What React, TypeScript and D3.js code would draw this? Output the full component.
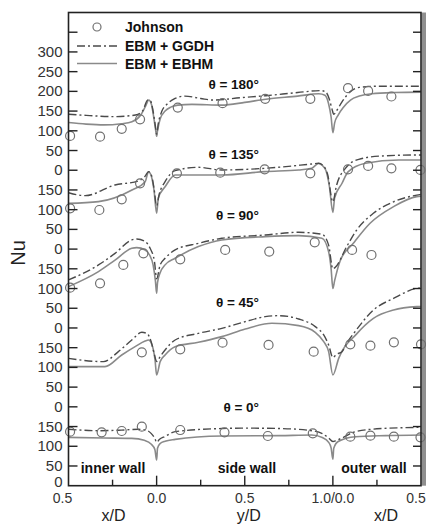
import React from "react";
import * as d3 from "d3";

// Unified wall coordinate s: 0..0.5 inner wall (x/D 0.5 -> 0), 0.5..1.5 side wall (y/D 0 -> 1), 1.5..2 outer wall (x/D 0 -> 0.5)
const angles = ["0", "45", "90", "135", "180"];
const offsets = [0, 200, 400, 600, 800];

const ggdh0: [number, number][] = [[0,143],[0.17,139.5],[0.3,141],[0.397,143],[0.44,141],[0.47,132],[0.49,120],[0.5,110],[0.515,117],[0.548,125],[0.605,137],[0.87,145],[1.0,146],[1.2,145],[1.372,140],[1.44,132],[1.476,121],[1.5,112],[1.52,115],[1.552,121],[1.628,137],[1.78,145],[2,148]];
const ebhm0: [number, number][] = [[0,122.6],[0.2,121],[0.359,120],[0.43,115],[0.47,105],[0.49,92],[0.5,65],[0.505,95],[0.52,107],[0.548,113],[0.605,117.5],[0.87,126],[1.2,127],[1.38,128.5],[1.44,122],[1.476,110],[1.49,96],[1.5,67],[1.505,95],[1.53,112],[1.628,124.3],[1.8,127],[2,128.5]];
const johnson0: [number, number][] = [[0.009,137],[0.188,135.3],[0.302,138.7],[0.416,149.7],[0.634,141.2],[0.885,135.3],[1.131,126],[1.386,132.8],[1.599,124.3],[1.713,126.8],[1.846,124.3],[1.997,122.6]];

const ggdh45: [number, number][] = [[0,123],[0.198,114.6],[0.283,140],[0.359,169.5],[0.416,189],[0.444,186.4],[0.469,165.3],[0.488,131.5],[0.5,115],[0.52,127.3],[0.548,144.2],[0.605,169.5],[0.737,186.4],[0.87,199.1],[1.003,216],[1.116,228.7],[1.192,231.2],[1.306,222.8],[1.4,203.4],[1.448,182.2],[1.476,156.9],[1.5,125],[1.52,133],[1.552,140],[1.578,161],[1.628,192],[1.73,245.6],[1.844,275],[1.976,300.6],[2,302]];
const ebhm45: [number, number][] = [[0,101.9],[0.207,101.9],[0.302,131.5],[0.378,152.6],[0.435,167],[0.454,169.5],[0.477,152.6],[0.491,118.8],[0.5,80.8],[0.52,114.6],[0.548,131.5],[0.605,152.6],[0.737,163.6],[0.87,178],[1.003,197.4],[1.154,211.8],[1.306,205.9],[1.4,189],[1.448,165.3],[1.476,140],[1.5,80.8],[1.533,123],[1.635,185],[1.73,224.5],[1.844,245.6],[1.976,254],[2,254.5]];
const johnson45: [number, number][] = [[0.416,138.3],[0.634,145.9],[0.874,162.8],[1.135,156.9],[1.391,140],[1.599,158.5],[1.713,155.2],[1.846,163.6],[2.0,158.5]];

const ggdh90: [number, number][] = [[0,121.7],[0.17,159.8],[0.264,189.3],[0.359,223.2],[0.387,225.7],[0.435,219],[0.463,202],[0.488,168],[0.5,125],[0.52,160],[0.548,176.7],[0.605,197.8],[0.737,214.7],[0.87,227.4],[1.116,235.8],[1.306,242.6],[1.438,237.5],[1.476,210],[1.5,150],[1.512,153],[1.578,206],[1.635,248.5],[1.73,290.8],[1.844,320],[1.976,337],[2,339]];
const ebhm90: [number, number][] = [[0,104.8],[0.17,142.8],[0.264,172],[0.359,202],[0.387,203.7],[0.435,197.8],[0.46,185],[0.48,160],[0.493,120],[0.5,88],[0.505,115],[0.52,140],[0.548,160],[0.605,176.7],[0.737,206.3],[0.87,223.2],[1.116,231.6],[1.306,234.1],[1.438,227.4],[1.476,193],[1.49,150],[1.5,100],[1.51,120],[1.541,170],[1.616,214.7],[1.711,265.5],[1.844,307.6],[1.976,333],[2,334]];
const johnson90: [number, number][] = [[0.009,102.3],[0.179,113.3],[0.311,159.8],[0.425,189.3],[0.634,174.1],[0.889,197.8],[1.139,193.6],[1.397,217.2],[1.609,197.8],[1.719,185.1]];

const ggdh135: [number, number][] = [[0,143],[0.094,135.6],[0.264,162.6],[0.397,172.8],[0.435,185],[0.454,196.4],[0.47,188],[0.485,155],[0.5,110],[0.515,140],[0.548,171],[0.605,199],[0.737,207.4],[0.87,200.7],[1.116,204.9],[1.381,215.9],[1.419,217.6],[1.445,212],[1.47,190],[1.5,120],[1.52,160],[1.571,204.9],[1.647,227.7],[1.779,236.2],[1.969,238.7],[2,238.7]];
const ebhm135: [number, number][] = [[0,116],[0.17,120.4],[0.36,150],[0.435,171],[0.454,196],[0.47,185],[0.485,150],[0.5,91],[0.51,130],[0.548,158],[0.605,188],[0.7,188],[0.87,188],[1.116,196.5],[1.306,200.7],[1.38,205],[1.419,217],[1.44,212],[1.46,200],[1.48,160],[1.5,93],[1.51,130],[1.552,167],[1.586,196],[1.685,217.6],[1.874,226],[2,226]];
const johnson135: [number, number][] = [[0.009,103.5],[0.175,99.2],[0.302,126.3],[0.406,166.9],[0.615,192.2],[0.861,193.9],[1.113,202.4],[1.372,192.2],[1.586,202.4],[1.7,210.8],[1.832,204.9],[1.997,200.7]];

const ggdh180: [number, number][] = [[0,142],[0.1,139],[0.26,136],[0.38,140],[0.42,150],[0.45,178],[0.465,176],[0.48,150],[0.493,112],[0.5,92],[0.51,120],[0.53,150],[0.56,168],[0.605,182],[0.66,188],[0.75,182],[0.82,178],[0.98,184],[1.12,189],[1.3,197],[1.43,202],[1.46,198],[1.48,180],[1.495,155],[1.505,142],[1.52,150],[1.55,172],[1.6,200],[1.65,210],[1.75,213],[1.9,213],[2,213]];
const ebhm180: [number, number][] = [[0,121],[0.1,117],[0.2,115],[0.3,118],[0.36,123],[0.41,140],[0.44,165],[0.455,178],[0.47,168],[0.485,130],[0.495,100],[0.5,86],[0.505,100],[0.52,130],[0.548,150],[0.58,160],[0.62,165],[0.7,167],[0.87,165],[1.0,172],[1.12,180],[1.3,188],[1.42,194],[1.455,190],[1.475,170],[1.49,135],[1.5,95],[1.51,120],[1.53,140],[1.56,160],[1.6,178],[1.65,188],[1.72,194],[1.85,197],[2,198]];
const johnson180: [number, number][] = [[0.009,87],[0.179,85],[0.302,105],[0.406,129],[0.62,159],[0.874,170],[1.116,181],[1.372,181],[1.586,208],[1.7,201],[1.832,187]];

const ggdhSeries = [ggdh0, ggdh45, ggdh90, ggdh135, ggdh180];
const ebhmSeries = [ebhm0, ebhm45, ebhm90, ebhm135, ebhm180];
const johnsonSeries = [johnson0, johnson45, johnson90, johnson135, johnson180];

const yTickValues = d3.range(0, 1200, 50);
const yTickLabels = yTickValues.map((v) => (v >= 1150 ? "" : v >= 800 ? String(v - 800) : String(v % 200)));
const xMajorTicks = [0, 0.5, 1, 1.5, 2];
const xMinorTicks = [0.25, 0.75, 1.25, 1.75];
const xTickLabels = ["0.5", "0.0", "0.5", "1.0/0.0", "0.5"];
const wallLabels = ["inner wall", "side wall", "outer wall"];
const axisTitles = ["x/D", "y/D", "x/D"];
const legendLabels = ["Johnson", "EBM + GGDH", "EBM + EBHM"];

const FONT = "'Liberation Sans', Arial, Helvetica, sans-serif";

export default function App() {
  const W = 426, H = 526;
  const x = d3.scaleLinear().domain([0, 2]).range([68.5, 421]);
  const y = d3.scaleLinear().domain([0, 1200]).range([485.7, 12.5]);
  const mkLine = (off: number) =>
    d3.line<[number, number]>().x((d) => x(d[0])).y((d) => y(d[1] + off)).curve(d3.curveMonotoneX);

  const left = x(0), right = x(2), top = y(1200), bottom = y(0);
  const dashColor = "#4a4a4a";
  const solidColor = "#8a8a8a";
  const circColor = "#707070";
  const labelBaselines = [411.5, 306.5, 219.5, 158.5, 89];

  return (
    <div style={{ position: "absolute", left: 0, top: 0 }}>
      <svg width={W} height={H} style={{ display: "block", background: "#fff" }} fontFamily={FONT}>
        <rect x={right + 0.5} y={top} width={4.5} height={bottom - top} fill="#8f8f8f" />
        {offsets.map((off, i) => (
          <g key={"p" + i}>
            <path d={mkLine(off)(ebhmSeries[i]) || ""} fill="none" stroke={solidColor} strokeWidth={1.6} />
            <path d={mkLine(off)(ggdhSeries[i]) || ""} fill="none" stroke={dashColor} strokeWidth={1.4} strokeDasharray="8,3,2,3" />
            {johnsonSeries[i].map((d, j) => (
              <circle key={j} cx={x(d[0])} cy={y(d[1] + off)} r={4.5} fill="none" stroke={circColor} strokeWidth={1.2} />
            ))}
            <text x={259} y={labelBaselines[i]} textAnchor="end" fontSize={13.5} fontWeight="bold" fill="#111">
              {"θ = " + angles[i] + "°"}
            </text>
          </g>
        ))}
        <rect x={left} y={top} width={right - left} height={bottom - top} fill="none" stroke="#222" strokeWidth={1.6} />
        {yTickValues.map((v, i) => (
          <g key={"yt" + i}>
            {v > 0 && <line x1={left} x2={left + 9} y1={y(v)} y2={y(v)} stroke="#222" strokeWidth={1.4} />}
            {v > 0 && <line x1={right} x2={right - 8} y1={y(v)} y2={y(v)} stroke="#222" strokeWidth={1.4} />}
            {yTickLabels[i] !== "" && (
              <text x={left - 6} y={y(v) + (v === 0 ? 1.5 : 5)} textAnchor="end" fontSize={15} fill="#333">
                {yTickLabels[i]}
              </text>
            )}
          </g>
        ))}
        {xMajorTicks.map((t, i) => (
          <g key={"xt" + i}>
            {t > 0 && t < 2 && <line x1={x(t)} x2={x(t)} y1={bottom} y2={bottom - 10} stroke="#222" strokeWidth={1.4} />}
            <text x={x(t) + (i === 0 ? -6 : i === 4 ? -5 : 0)} y={503} textAnchor="middle" fontSize={14} fill="#333">
              {xTickLabels[i]}
            </text>
          </g>
        ))}
        {xMinorTicks.map((t, i) => (
          <line key={"xm" + i} x1={x(t)} x2={x(t)} y1={bottom} y2={bottom - 6} stroke="#222" strokeWidth={1.4} />
        ))}
        <text x={x(0.25) + 1} y={521} textAnchor="middle" fontSize={16} fill="#222">{axisTitles[0]}</text>
        <text x={x(1.0) + 4} y={521} textAnchor="middle" fontSize={16} fill="#222">{axisTitles[1]}</text>
        <text x={x(1.75) + 9} y={521} textAnchor="middle" fontSize={16} fill="#222">{axisTitles[2]}</text>
        <text transform="translate(25,253) rotate(-90)" textAnchor="middle" fontSize={20} fill="#222">Nu</text>
        <text x={113} y={473} textAnchor="middle" fontSize={14} fontWeight="bold" fill="#111">{wallLabels[0]}</text>
        <text x={247} y={473} textAnchor="middle" fontSize={14} fontWeight="bold" fill="#111">{wallLabels[1]}</text>
        <text x={374} y={473} textAnchor="middle" fontSize={14} fontWeight="bold" fill="#111">{wallLabels[2]}</text>
        <circle cx={97} cy={27} r={4} fill="none" stroke={circColor} strokeWidth={1.2} />
        <text x={125} y={32} fontSize={14} fontWeight="bold" fill="#111">{legendLabels[0]}</text>
        <line x1={77} x2={117} y1={46} y2={46} stroke={dashColor} strokeWidth={1.4} strokeDasharray="8,3,2,3" />
        <text x={125} y={51} fontSize={14} fontWeight="bold" fill="#111">{legendLabels[1]}</text>
        <line x1={77} x2={117} y1={63.5} y2={63.5} stroke={solidColor} strokeWidth={1.6} />
        <text x={125} y={69} fontSize={14} fontWeight="bold" fill="#111">{legendLabels[2]}</text>
      </svg>
    </div>
  );
}
